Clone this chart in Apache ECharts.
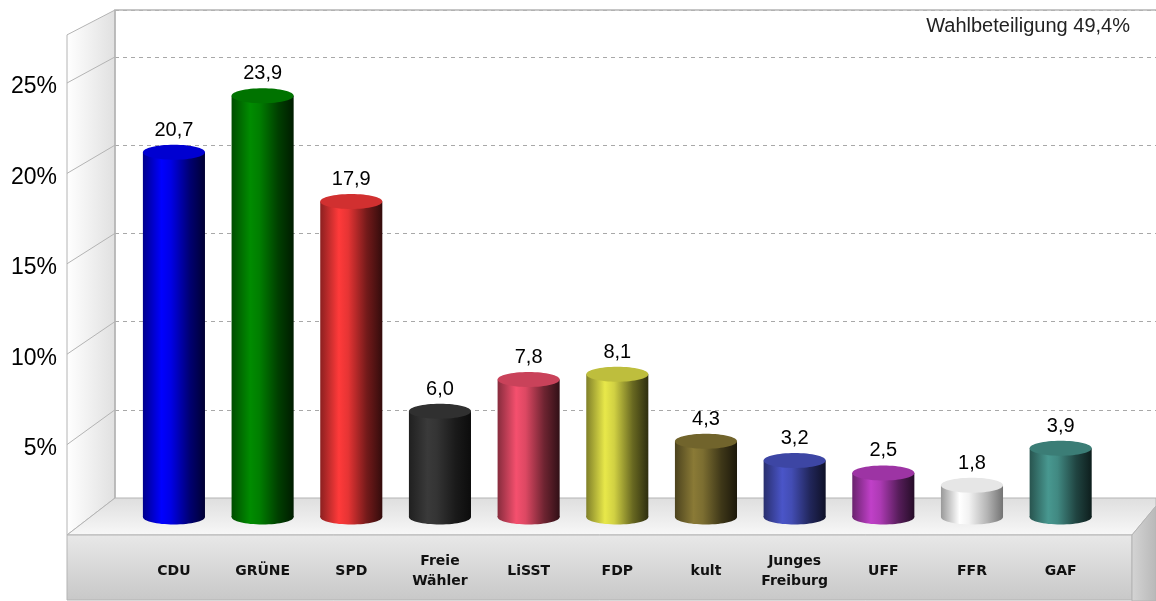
<!DOCTYPE html>
<html>
<head>
<meta charset="utf-8">
<script src="https://cdn.jsdelivr.net/npm/echarts@6/dist/echarts.min.js"></script>
<style>
  html, body { margin: 0; padding: 0; background: #fff; }
  #chart { width: 1156px; height: 601px; }
</style>
</head>
<body>
<div id="chart"></div>
<script>
// Gemeinderatswahl Freiburg - Stimmenanteile in %
const parties = ['CDU', 'GRÜNE', 'SPD', 'Freie\nWähler', 'LiSST', 'FDP', 'kult', 'Junges\nFreiburg', 'UFF', 'FFR', 'GAF'];
const shares = [20.7, 23.9, 17.9, 6.0, 7.8, 8.1, 4.3, 3.2, 2.5, 1.8, 3.9];
const yTicks = [5, 10, 15, 20, 25];
const turnoutText = 'Wahlbeteiligung 49,4%';

// farben der zylinder
const partyColors = ['#0000ff', '#008c00', '#ff3a3a', '#3a3a3a', '#f5506e', '#e8e84a',
                     '#8a7a36', '#4a55c8', '#c040c8', '#ffffff', '#489890'];

const Y_MAX = 27.66;

function mix(hex, f, target) {
    // f = 0 -> original, f = 1 -> target
    const n = parseInt(hex.slice(1), 16);
    const r = (n >> 16) & 255, g = (n >> 8) & 255, b = n & 255;
    const t = target === 'white' ? 255 : 0;
    const m = v => Math.round(v + (t - v) * f);
    return 'rgb(' + m(r) + ',' + m(g) + ',' + m(b) + ')';
}

function bodyFill(c) {
    const isWhite = c === '#ffffff';
    return new echarts.graphic.LinearGradient(0, 0, 1, 0, [
        { offset: 0, color: mix(c, isWhite ? 0.4 : 0.45, 'black') },
        { offset: 0.3, color: c },
        { offset: 0.45, color: mix(c, isWhite ? 0.05 : 0.1, 'black') },
        { offset: 0.75, color: mix(c, isWhite ? 0.3 : 0.55, 'black') },
        { offset: 1, color: mix(c, isWhite ? 0.55 : 0.8, 'black') }
    ]);
}

function renderCylinder(params, api) {
    const i = api.value(0);
    const v = api.value(1);
    const top = api.coord([i, v]);
    const base = api.coord([i, 0]);
    const rx = api.size([1, 0])[0] * 0.35;
    const ry = 7.5;
    const c = partyColors[i];
    const fill = bodyFill(c);
    const topColor = c === '#ffffff' ? '#e6e6e6' : mix(c, 0.18, 'black');
    return {
        type: 'group',
        children: [
            { type: 'ellipse', shape: { cx: base[0], cy: base[1], rx: rx, ry: ry }, style: { fill: fill } },
            { type: 'rect', shape: { x: top[0] - rx, y: top[1], width: rx * 2, height: base[1] - top[1] }, style: { fill: fill } },
            { type: 'ellipse', shape: { cx: top[0], cy: top[1], rx: rx, ry: ry }, style: { fill: topColor } },
            {
                type: 'text',
                x: top[0], y: top[1] - 22,
                style: {
                    text: v.toFixed(1).replace('.', ','),
                    align: 'center', verticalAlign: 'middle',
                    font: '20px "Liberation Sans", Arial, sans-serif',
                    fill: '#000'
                }
            }
        ]
    };
}

const chart = echarts.init(document.getElementById('chart'), null, { renderer: 'canvas' });

const option = {
    animation: false,
    backgroundColor: '#fff',
    grid: [
        // rueckwand
        { left: 115, right: 0, top: 10, bottom: 103 },
        // zylinder
        { left: 129.6, right: 51, top: 29.6, bottom: 84 },
        // vorderkante
        { left: 67, right: 24, top: 34.9, bottom: 66 },
        // beschriftung der vorderkante (etwas tiefer gesetzt)
        { left: 67, right: 24, top: 38.9, bottom: 62 }
    ],
    xAxis: [
        { gridIndex: 0, type: 'category', data: parties, show: false },
        {
            gridIndex: 1, type: 'category', data: parties, z: 10,
            axisLine: { show: false }, axisTick: { show: false },
            axisLabel: {
                interval: 0, margin: 54, verticalAlign: 'middle',
                fontFamily: '"DejaVu Sans", Verdana, sans-serif',
                fontWeight: 'bold', fontSize: 14, lineHeight: 20, color: '#111'
            }
        },
        { gridIndex: 2, type: 'category', data: parties, show: false },
        { gridIndex: 3, type: 'category', data: parties, show: false }
    ],
    yAxis: [
        {
            gridIndex: 0, type: 'value', min: 0, max: Y_MAX, interval: 5,
            axisLine: { show: false }, axisTick: { show: false }, axisLabel: { show: false },
            splitLine: { show: true, lineStyle: { color: '#a8a8a8', type: [4, 4], width: 1 } }
        },
        { gridIndex: 1, type: 'value', min: 0, max: Y_MAX, show: false },
        { gridIndex: 2, type: 'value', min: 0, max: Y_MAX, show: false },
        {
            gridIndex: 3, type: 'value', min: 0, max: Y_MAX, interval: 5, z: 10,
            axisLine: { show: false }, axisTick: { show: false }, splitLine: { show: false },
            axisLabel: {
                margin: 10,
                fontFamily: '"Liberation Sans", Arial, sans-serif',
                fontSize: 23, color: '#000',
                formatter: v => (yTicks.indexOf(v) >= 0 ? v + '%' : '')
            }
        }
    ],
    series: [{
        type: 'custom',
        xAxisIndex: 1, yAxisIndex: 1,
        renderItem: renderCylinder,
        clip: false,
        z: 5,
        data: shares.map((v, i) => [i, v])
    }]
};
chart.setOption(option);

// 3D-rahmen aus den achsen ableiten
const wallTop = chart.convertToPixel({ yAxisIndex: 0 }, Y_MAX);
const wallBottom = chart.convertToPixel({ yAxisIndex: 0 }, 0);
const frontTop = chart.convertToPixel({ yAxisIndex: 2 }, Y_MAX);
const frontBottom = chart.convertToPixel({ yAxisIndex: 2 }, 0);
const wallLeft = 115, frontLeft = 67, frontRight = 1132, W = 1156, H = 601;
const gray = '#b4b4b4';

const frame = [
    {
        type: 'polygon', z: 1,
        shape: { points: [[frontLeft, frontTop], [wallLeft, wallTop], [wallLeft, wallBottom], [frontLeft, frontBottom]] },
        style: {
            fill: new echarts.graphic.LinearGradient(0, 0, 1, 0, [
                { offset: 0, color: '#ffffff' }, { offset: 1, color: '#e0e0e0' }]),
            stroke: gray, lineWidth: 1
        }
    },
    {
        type: 'polyline', z: 1,
        shape: { points: [[W, wallTop], [wallLeft, wallTop], [wallLeft, wallBottom]] },
        style: { stroke: gray, lineWidth: 1.5, fill: null }
    },
    {
        type: 'polygon', z: 1,
        shape: { points: [[frontLeft, frontBottom], [wallLeft, wallBottom], [W, wallBottom], [W, 506], [frontRight, frontBottom]] },
        style: {
            fill: new echarts.graphic.LinearGradient(0, 0, 0, 1, [
                { offset: 0, color: '#dedede' }, { offset: 1, color: '#f8f8f8' }]),
            stroke: gray, lineWidth: 1
        }
    },
    {
        type: 'rect', z: 1,
        shape: { x: frontLeft, y: frontBottom, width: frontRight - frontLeft, height: H - 1 - frontBottom },
        style: {
            fill: new echarts.graphic.LinearGradient(0, 0, 0, 1, [
                { offset: 0, color: '#e8e8e8' }, { offset: 1, color: '#c8c8c8' }]),
            stroke: gray, lineWidth: 1
        }
    },
    {
        type: 'polygon', z: 1,
        shape: { points: [[frontRight, frontBottom], [W, 506], [W, H], [frontRight, H]] },
        style: {
            fill: new echarts.graphic.LinearGradient(0, 0, 1, 0, [
                { offset: 0, color: '#d4d4d4' }, { offset: 1, color: '#b8b8b8' }]),
            stroke: gray, lineWidth: 1
        }
    },
    {
        type: 'text', z: 2,
        right: 26, top: 16,
        style: {
            text: turnoutText,
            font: '20px "Liberation Sans", Arial, sans-serif',
            fill: '#222'
        }
    }
];

yTicks.forEach(v => {
    frame.push({
        type: 'line', z: 1,
        shape: {
            x1: wallLeft, y1: chart.convertToPixel({ yAxisIndex: 0 }, v),
            x2: frontLeft, y2: chart.convertToPixel({ yAxisIndex: 2 }, v)
        },
        style: { stroke: gray, lineWidth: 1 }
    });
});

chart.setOption({ graphic: { elements: frame } });
window.onresize = function () { chart.resize(); };
</script>
</body>
</html>
